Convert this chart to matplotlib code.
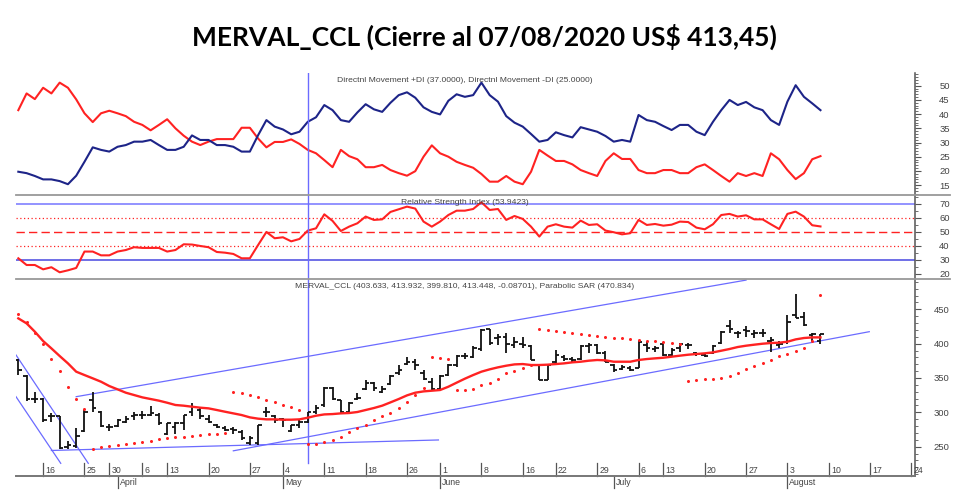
import numpy as np
import matplotlib
matplotlib.use("Agg")
import matplotlib.pyplot as plt
from matplotlib.lines import Line2D

# ── Data ──────────────────────────────────────────────────────────────────────
# one value per trading day, 11-Mar-2020 .. 07-Aug-2020 (98 sessions)
opens = [376, 353, 320, 319, 294, 294, 249, 251, 273, 318,
         301, 279, 280, 286, 294, 296, 296, 296, 269, 279,
         284, 301, 303, 291, 282, 277, 276, 272, 255, 255,
         301, 294, 290, 273, 282, 286, 301, 310, 335, 318,
         301, 320, 334, 342, 330, 341, 357, 371, 374, 358,
         344, 334, 354, 369, 382, 381, 392, 421, 408, 410,
         398, 400, 397, 369, 347, 373, 381, 378, 378, 396,
         398, 387, 369, 363, 364, 365, 398, 392, 400, 383,
         393, 398, 387, 383, 386, 401, 425, 415, 420, 414,
         415, 404, 398, 403, 442, 439, 412, 403.633]
highs = [378, 355, 330, 321, 299, 295, 258, 277, 303, 330,
         302, 283, 290, 294, 300, 302, 309, 299, 284, 286,
         296, 314, 306, 296, 283, 280, 279, 274, 265, 282,
         308, 296, 292, 282, 289, 301, 311, 337, 337, 318,
         315, 328, 347, 344, 338, 355, 369, 381, 378, 361,
         350, 354, 370, 383, 386, 396, 422, 422, 414, 415,
         410, 410, 398, 371, 371, 391, 384, 381, 398, 401,
         400, 389, 371, 369, 368, 405, 402, 397, 403, 393,
         401, 401, 388, 386, 398, 419, 435, 419, 425, 420,
         421, 409, 404, 442, 472, 446, 415, 413.932]
lows = [355, 317, 313, 286, 286, 247, 247, 248, 272, 301,
        278, 273, 279, 284, 289, 290, 294, 282, 267, 269,
        274, 294, 290, 284, 277, 273, 269, 260, 252, 252,
        293, 284, 278, 272, 277, 284, 298, 308, 318, 299,
        298, 318, 332, 331, 328, 340, 354, 369, 362, 347,
        333, 334, 353, 366, 377, 379, 389, 398, 398, 386,
        394, 393, 376, 347, 347, 372, 375, 373, 376, 386,
        385, 373, 359, 361, 360, 364, 388, 388, 382, 381,
        388, 392, 382, 380, 385, 399, 416, 408, 410, 408,
        410, 388, 393, 400, 437, 425, 403, 399.810]
closes = [362, 319, 320, 289, 295, 248, 252, 265, 301, 307,
          280, 279, 289, 291, 296, 296, 299, 284, 284, 285,
          296, 308, 294, 286, 279, 274, 274, 262, 262, 281,
          301, 289, 289, 281, 286, 300, 306, 335, 320, 301,
          314, 321, 342, 335, 334, 353, 362, 373, 369, 349,
          334, 353, 369, 382, 382, 394, 420, 401, 410, 400,
          402, 398, 376, 347, 369, 384, 378, 376, 396, 398,
          386, 374, 362, 366, 362, 402, 393, 394, 383, 391,
          399, 398, 385, 382, 397, 417, 422, 415, 419, 415,
          415, 406, 399, 432, 438, 427, 414, 413.448]
moving_avg = [436.8, 429.5, 417.4, 403.8, 393.1, 382.0, 371.3, 359.2, 354.3, 349.5,
              344.6, 338.3, 333.5, 328.6, 325.2, 321.8, 319.4, 317.0, 314.0, 310.7,
              309.7, 308.2, 306.8, 305.8, 303.4, 300.9, 298.5, 296.1, 292.7, 290.8,
              289.8, 289.8, 289.3, 289.3, 289.8, 292.2, 295.1, 297.0, 297.5, 298.5,
              299.0, 300.5, 303.4, 306.3, 309.7, 314.5, 319.4, 324.7, 328.6, 330.5,
              331.5, 332.5, 337.3, 343.2, 349.0, 354.3, 359.2, 362.6, 365.5, 367.9,
              369.8, 370.3, 368.9, 368.9, 369.4, 370.3, 371.3, 372.8, 373.7, 375.2,
              376.2, 375.7, 373.7, 373.7, 373.7, 376.2, 377.6, 378.6, 379.5, 381.0,
              382.5, 383.9, 384.9, 385.9, 387.3, 389.7, 392.2, 395.1, 397.0, 398.5,
              399.9, 400.9, 401.4, 402.8, 406.2, 408.2, 409.1, 409.1]
sar = [443, 432, 415, 399, 378, 360, 337, 320, 305, 247,
       249, 251, 252.5, 254, 256, 257.5, 259, 261, 262, 263.5,
       264.5, 266, 267, 268, 269, 269.5, 330, 328, 325, 322,
       318.5, 314.5, 311, 307.5, 303.5, 253.5, 254, 256.5, 259.7, 264.6,
       272, 277, 282, 289, 294.6, 299.5, 305.8, 315, 325, 335,
       381, 379.5, 377, 332, 333, 334, 340, 343, 348, 357,
       360, 364, 369, 422, 420, 418.5, 417.5, 415, 413.5, 412.5,
       411.5, 410, 408.7, 407.8, 406.5, 405.5, 404.5, 403.8, 402.8, 400.5,
       399, 346, 347, 348, 348.8, 350.5, 353.5, 357.8, 362.4, 367,
       371.3, 376.7, 381.5, 385.5, 389.5, 394.2, 404, 470.834]
di_plus = [19.7, 19.2, 18.2, 17.0, 17.0, 16.4, 15.3, 18.3, 23.2, 28.3,
           27.4, 26.8, 28.5, 29.1, 30.3, 30.3, 30.9, 29.1, 27.4, 27.4,
           28.5, 32.5, 30.9, 30.9, 29.1, 29.1, 28.5, 26.8, 26.8, 32.6,
           37.9, 35.6, 34.6, 32.9, 33.8, 37.3, 38.9, 43.2, 41.4, 37.9,
           37.3, 40.6, 43.5, 41.7, 40.8, 44.0, 46.7, 47.7, 45.8, 42.4,
           40.8, 39.9, 44.7, 47.0, 46.1, 46.7, 51.1, 46.7, 44.4, 39.3,
           37.0, 35.6, 33.0, 30.3, 30.9, 33.6, 32.6, 31.8, 35.4, 34.6,
           33.8, 32.3, 30.3, 30.9, 30.3, 39.7, 37.9, 37.3, 35.8, 34.4,
           36.2, 36.2, 33.8, 32.6, 37.3, 41.4, 45.0, 43.2, 44.3, 42.4,
           41.4, 37.9, 36.2, 44.4, 50.2, 46.1, 43.8, 41.4]
di_minus = [41.4, 47.3, 45.3, 49.3, 47.3, 51.1, 49.3, 45.2, 40.3, 37.2,
            40.3, 41.2, 40.3, 39.3, 37.3, 36.2, 34.3, 36.2, 38.2, 35.0,
            32.4, 30.3, 29.1, 30.3, 31.2, 31.2, 31.2, 35.2, 35.2, 31.4,
            28.3, 30.2, 30.2, 31.1, 29.5, 27.4, 26.2, 23.8, 21.3, 27.4,
            25.2, 24.1, 21.3, 21.3, 22.1, 20.3, 19.2, 18.3, 19.9, 25.0,
            29.0, 26.2, 25.0, 23.2, 22.1, 21.1, 18.9, 16.2, 16.2, 18.2,
            16.2, 15.3, 19.7, 27.4, 25.4, 23.5, 23.5, 22.3, 20.3, 19.2,
            18.2, 23.5, 26.2, 24.2, 24.2, 20.3, 19.2, 19.2, 20.3, 20.3,
            19.2, 19.2, 21.3, 22.3, 20.3, 18.2, 16.2, 19.2, 18.2, 19.2,
            18.2, 26.2, 24.1, 20.3, 17.1, 19.2, 24.1, 25.2]
rsi = [31.2, 26.4, 26.4, 23.3, 24.8, 21.2, 22.6, 24.3, 36.0, 36.0,
       33.3, 33.3, 36.0, 37.1, 39.1, 38.6, 38.6, 38.6, 36.0, 37.1,
       41.2, 41.0, 40.0, 39.1, 35.7, 35.2, 34.3, 31.2, 31.2, 40.7,
       50.0, 45.5, 46.2, 43.3, 45.0, 51.0, 52.6, 62.6, 57.9, 50.7,
       53.8, 56.2, 61.0, 58.6, 59.0, 64.3, 66.2, 68.1, 66.7, 57.4,
       53.8, 57.4, 62.1, 65.2, 65.2, 66.4, 71.2, 65.7, 66.4, 58.6,
       61.4, 59.3, 53.8, 46.7, 53.8, 55.5, 53.8, 53.1, 58.1, 55.0,
       55.5, 51.0, 49.8, 48.3, 49.1, 58.6, 55.0, 55.7, 54.5, 55.2,
       57.4, 57.1, 53.1, 51.9, 55.5, 62.1, 62.9, 61.0, 61.9, 59.0,
       59.0, 55.5, 52.1, 62.9, 64.5, 61.0, 54.8, 53.94]

# x axis: session index of the weekly ticks and of the first session of each month
day_ticks = [3, 8, 11, 15, 18, 23, 28, 32, 37, 42, 47, 51, 56, 61, 65, 70,
             75, 78, 83, 88, 93, 98, 103, 108]
day_labels = ['16', '25', '30', '6', '13', '20', '27', '4', '11', '18', '26', '1',
              '8', '16', '22', '29', '6', '13', '20', '27', '3', '10', '17', '24']
month_ticks = [12, 32, 51, 72, 93]
month_labels = ['April', 'May', 'June', 'July', 'August']

# trendlines drawn on the price panel: (x0, y0, x1, y1) in session / price units
trendlines = [(7.0, 322.8, 88.0, 492.5),
              (26.0, 244.0, 102.9, 417.4),
              (4.0, 244.5, 50.8, 259.8),
              (-0.28, 383.5, 8.46, 225.8),
              (-0.28, 322.8, 5.13, 225.8)]
cursor_x = 35

title = 'MERVAL_CCL (Cierre al 07/08/2020 US$ 413,45)'
dmi_label = 'Directnl Movement +DI (37.0000), Directnl Movement -DI (25.0000)'
rsi_label = 'Relative Strength Index (53.9423)'
px_label = ('MERVAL_CCL (403.633, 413.932, 399.810, 413.448, -0.08701), '
            'Parabolic SAR (470.834)')

# ── Style ─────────────────────────────────────────────────────────────────────
RED = '#ff2222'
NAVY = '#1d2488'
LBLUE = '#6b6bff'
INK = '#111111'
GREY = '#444444'
plt.rcParams['font.family'] = ['Liberation Sans', 'DejaVu Sans']

W, H = 980, 501
XMIN, XMAX = -0.28, 108.43


def box(x0, y0, x1, y1):
    return [x0 / W, 1 - y1 / H, (x1 - x0) / W, (y1 - y0) / H]


def style_panel(ax, ylim, labels, minor):
    ax.set_xlim(XMIN, XMAX)
    ax.set_ylim(*ylim)
    for s in ('top', 'left', 'bottom'):
        ax.spines[s].set_visible(False)
    ax.spines['right'].set_color('#555555')
    ax.spines['right'].set_linewidth(1.1)
    ax.set_facecolor('none')
    ax.yaxis.tick_right()
    ax.set_yticks(labels)
    ax.set_yticks(np.arange(np.ceil(ylim[0] / minor) * minor, ylim[1], minor), minor=True)
    ax.tick_params(axis='y', which='major', length=4, width=0.8, color='#555555',
                   labelcolor=GREY, labelsize=6.8, pad=21)
    ax.tick_params(axis='y', which='minor', length=2.2, width=0.6, color='#555555')
    plt.setp(ax.get_yticklabels(), ha='right')
    ax.set_xticks([])


fig = plt.figure(figsize=(9.8, 5.01), dpi=100)
ax_dmi = fig.add_axes(box(16, 73, 915, 195))
ax_rsi = fig.add_axes(box(16, 195, 915, 279))
ax_px = fig.add_axes(box(16, 279, 915, 476))

idx = np.arange(len(closes))

# ── DMI panel ─────────────────────────────────────────────────────────────────
style_panel(ax_dmi, (11.5, 54.5), [15, 20, 25, 30, 35, 40, 45, 50], 1)
ax_dmi.plot(idx, di_minus, color=RED, lw=1.5)
ax_dmi.plot(idx, di_plus, color=NAVY, lw=1.5)
ax_dmi.axvline(cursor_x, color=LBLUE, lw=1)

# ── RSI panel ─────────────────────────────────────────────────────────────────
style_panel(ax_rsi, (16.4, 76.4), [20, 30, 40, 50, 60, 70], 5)
ax_rsi.axhline(70, color='#8080ff', lw=1.2)
ax_rsi.axhline(30, color='#4848e0', lw=1.1)
ax_rsi.axhline(60, color=RED, lw=0.9, ls=(0, (1, 2)))
ax_rsi.axhline(40, color=RED, lw=0.9, ls=(0, (1, 2)))
ax_rsi.axhline(50, color=RED, lw=1.0, ls=(0, (6, 3)))
ax_rsi.plot(idx, rsi, color=RED, lw=1.5)
ax_rsi.axvline(cursor_x, color=LBLUE, lw=1)

# ── Price panel ───────────────────────────────────────────────────────────────
style_panel(ax_px, (207.35, 494.1), [250, 300, 350, 400, 450], 10)
for x0, y0, x1, y1 in trendlines:
    ax_px.plot([x0, x1], [y0, y1], color=LBLUE, lw=0.9, zorder=1)
ax_px.axvline(cursor_x, ymin=13 / 197, color=LBLUE, lw=1, zorder=1)
ax_px.vlines(idx, lows, highs, color=INK, lw=1.3, zorder=3)
ax_px.hlines(opens, idx - 0.42, idx, color=INK, lw=1.3, zorder=3)
ax_px.hlines(closes, idx, idx + 0.42, color=INK, lw=1.3, zorder=3)
ax_px.plot(idx, moving_avg, color=RED, lw=1.7, zorder=4)
ax_px.plot(idx, sar, ls='none', marker='o', ms=2.2, mew=0, color=RED, zorder=4)

# x axis: weekly ticks inside the panel, month ticks hanging below
xtr = ax_px.get_xaxis_transform()
for pos, lab in zip(day_ticks, day_labels):
    ax_px.plot([pos, pos], [0, 13 / 197], transform=xtr, color='#555555', lw=0.9,
               clip_on=False)
    ax_px.text(pos + 0.25, 5.5 / 197, lab, transform=xtr, fontsize=6.3, color=GREY,
               ha='left', va='center')
for pos, lab in zip(month_ticks, month_labels):
    ax_px.plot([pos, pos], [0, -12 / 197], transform=xtr, color='#555555', lw=0.9,
               clip_on=False)
    ax_px.text(pos + 0.25, -6.5 / 197, lab, transform=xtr, fontsize=6.3, color=GREY,
               ha='left', va='center', clip_on=False)

# panel separators and bottom axis line
for y in (195, 279):
    fig.add_artist(Line2D([16 / W, 950 / W], [1 - y / H] * 2, color='#999999', lw=1.3))
fig.add_artist(Line2D([16 / W, 915 / W], [1 - 476 / H] * 2, color='#777777', lw=1.4))

# ── Texts ─────────────────────────────────────────────────────────────────────
fig.text(484 / W, 1 - 37 / H, title, ha='center', va='center', fontsize=19,
         fontweight='bold', family='Lato', color='black')
fig.text(465 / W, 1 - 80 / H, dmi_label, ha='center', va='center', fontsize=6.1,
         color=GREY)
fig.text(465 / W, 1 - 202 / H, rsi_label, ha='center', va='center', fontsize=6.1,
         color=GREY)
fig.text(465 / W, 1 - 287 / H, px_label, ha='center', va='center', fontsize=6.1,
         color=GREY)

fig.savefig('out.png', dpi=100, facecolor='white')
